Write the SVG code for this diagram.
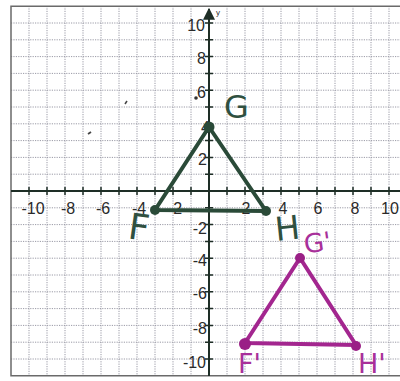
<svg xmlns="http://www.w3.org/2000/svg" width="400" height="381" viewBox="0 0 400 381">
<defs>
<style>
.bg{fill:#ffffff}
.grid{stroke:#9a9aa6;stroke-width:1;stroke-dasharray:1.2 1.2;fill:none}
.border{stroke:#6a6a6a;stroke-width:1.5;fill:none}
.axis{stroke:#1e2e26;stroke-width:2;fill:none}
.tick{stroke:#1e2e26;stroke-width:1.5}
.num{font-family:"Liberation Sans",Arial,sans-serif;font-size:16px;fill:#2a2a2a}
.numx{text-anchor:middle}
.numy{text-anchor:end}
.green{stroke:#2a4a38;stroke-width:4;fill:none;stroke-linecap:round;stroke-linejoin:round}
.gdot{fill:#2a4a38}
.glbl{font-family:"DejaVu Sans",sans-serif;fill:#2f5040}
.magenta{stroke:#a3268f;stroke-width:4;fill:none;stroke-linecap:round;stroke-linejoin:round}
.mdot{fill:#9a1f86}
.mlbl{font-family:"DejaVu Sans",sans-serif;fill:#a8309a}
</style>
<marker id="arr" viewBox="0 0 10 10" refX="9" refY="5" markerWidth="6" markerHeight="6" orient="auto-start-reverse">
<path d="M0,0 L10,5 L0,10 z" fill="#1e2e26"/>
</marker>
</defs>
<rect class="bg" x="0" y="0" width="400" height="381"/>
<g id="grid">
<path class="grid" d="M29,6V376M47,6V376M65,6V376M83,6V376M101,6V376M119,6V376M137,6V376M155,6V376M173,6V376M191,6V376M227,6V376M245,6V376M263,6V376M281,6V376M299,6V376M317,6V376M335,6V376M353,6V376M371,6V376M389,6V376"/>
<path class="grid" d="M11,23H400M11,39.8H400M11,56.6H400M11,73.4H400M11,90.2H400M11,107H400M11,123.8H400M11,140.6H400M11,157.4H400M11,174.2H400M11,207.8H400M11,224.6H400M11,241.4H400M11,258.2H400M11,275H400M11,291.8H400M11,308.6H400M11,325.4H400M11,342.2H400M11,359H400"/>
<path class="border" d="M400,6.2H11V375.8H400"/>
</g>
<g id="axes">
<line class="axis" x1="11" y1="191" x2="400" y2="191"/>
<line class="axis" x1="209" y1="376" x2="209" y2="9" marker-end="url(#arr)"/>
<text x="216" y="15" font-family="Liberation Sans,sans-serif" font-size="8" fill="#333">y</text>
<path class="tick" d="M29,187V195M47,187V195M65,187V195M83,187V195M101,187V195M119,187V195M137,187V195M155,187V195M173,187V195M191,187V195M227,187V195M245,187V195M263,187V195M281,187V195M299,187V195M317,187V195M335,187V195M353,187V195M371,187V195M389,187V195"/>
<path class="tick" d="M205,23H213M205,39.8H213M205,56.6H213M205,73.4H213M205,90.2H213M205,107H213M205,123.8H213M205,140.6H213M205,157.4H213M205,174.2H213M205,207.8H213M205,224.6H213M205,241.4H213M205,258.2H213M205,275H213M205,291.8H213M205,308.6H213M205,325.4H213M205,342.2H213M205,359H213"/>
</g>
<g id="axis-labels">
<text class="num numx" x="33" y="214">-10</text>
<text class="num numx" x="68" y="214">-8</text>
<text class="num numx" x="103" y="214">-6</text>
<text class="num numx" x="139" y="214">-4</text>
<text class="num numx" x="175" y="214">-2</text>
<text class="num numx" x="246" y="214">2</text>
<text class="num numx" x="283" y="214">4</text>
<text class="num numx" x="318" y="214">6</text>
<text class="num numx" x="355" y="214">8</text>
<text class="num numx" x="390" y="214">10</text>
<text class="num numy" x="205" y="31">10</text>
<text class="num numy" x="206" y="64">8</text>
<text class="num numy" x="206" y="98">6</text>
<text class="num numy" x="210" y="133">4</text>
<text class="num numy" x="207" y="165">2</text>
<text class="num numy" x="207" y="234">-2</text>
<text class="num numy" x="207" y="266">-4</text>
<text class="num numy" x="207" y="299">-6</text>
<text class="num numy" x="207" y="334">-8</text>
<text class="num numy" x="206" y="368">-10</text>
</g>
<g id="marks">
<circle cx="196" cy="98" r="1.8" fill="#333"/>
<path d="M125,104l2,-3" stroke="#444" stroke-width="1.5"/>
<path d="M88,134l3,-2" stroke="#444" stroke-width="1.8"/>
</g>
<g id="connectors">
<path class="green" d="M155,210L209,127L266,211Z"/>
<path class="magenta" d="M245,343L300,258L356,345Z"/>
</g>
<g id="node-F">
<circle class="gdot" cx="155" cy="210" r="5"/>
<text class="glbl" x="129" y="240" font-size="36" transform="rotate(8 141 225)">F</text>
</g>
<g id="node-G">
<circle class="gdot" cx="209" cy="127" r="5.5"/>
<text class="glbl" x="224" y="118" font-size="32">G</text>
</g>
<g id="node-H">
<circle class="gdot" cx="266" cy="211" r="5"/>
<text class="glbl" x="275" y="240" font-size="33" transform="rotate(-6 286 228)">H</text>
</g>
<g id="node-G-prime">
<circle class="mdot" cx="300" cy="258" r="5"/>
<text class="mlbl" x="304" y="252" font-size="26" transform="rotate(-8 316 243)">G'</text>
</g>
<g id="node-F-prime">
<circle class="mdot" cx="245" cy="344" r="6"/>
<text class="mlbl" x="238" y="373" font-size="27">F'</text>
</g>
<g id="node-H-prime">
<circle class="mdot" cx="356" cy="346" r="5"/>
<text class="mlbl" x="358" y="373" font-size="27">H'</text>
</g>
</svg>
